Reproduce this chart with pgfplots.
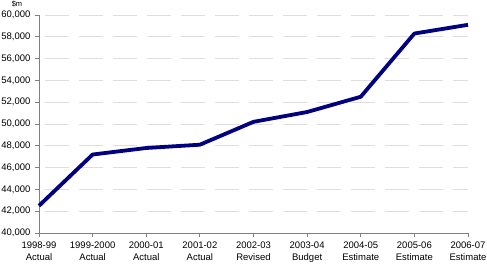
\documentclass[border=0pt]{standalone}
\usepackage{pgfplots}
\pgfplotsset{compat=1.18}
\usepackage{fontspec}
\setmainfont{Liberation Sans}
\definecolor{navyline}{RGB}{0,0,128}
\definecolor{axisgray}{RGB}{128,128,128}
\definecolor{gridgray}{RGB}{222,222,222}
\begin{document}
\begin{tikzpicture}
\useasboundingbox (-39pt,-36pt) rectangle (448pt,233pt);
\begin{axis}[
  scale only axis,
  width=429pt, height=218pt,
  xmin=0, xmax=8,
  ymin=40000, ymax=60000,
  ytick={40000,42000,...,60000},
  xtick={0,...,8},
  xticklabels={{1998-99\\Actual},{1999-2000\\Actual},{2000-01\\Actual},{2001-02\\Actual},{2002-03\\Revised},{2003-04\\Budget},{2004-05\\Estimate},{2005-06\\Estimate},{2006-07\\Estimate}},
  x tick label style={align=center, font=\fontsize{9.5}{12}\selectfont, yshift=-1pt},
  y tick label style={font=\fontsize{9.5}{11}\selectfont, xshift=-1pt},
  /pgf/number format/.cd, 1000 sep={,}, assume math mode=true,
  /pgfplots/.cd,
  scaled y ticks=false,
  axis lines=left,
  axis line style={axisgray, line width=0.8pt, -},
  tick style={axisgray, line width=0.8pt},
  tick align=outside,
  major tick length=4pt,
  ymajorgrids,
  major grid style={gridgray, line width=0.8pt, dash pattern=on 24pt off 10pt, dash phase=-6pt},
  clip=false,
]
\addplot[navyline, line width=3.8pt, line join=round] coordinates {
  (0,42500) (1,47200) (2,47800) (3,48100) (4,50200)
  (5,51100) (6,52500) (7,58300) (8,59100)
};
\end{axis}
% unit label above the value axis
\node[anchor=base, font=\fontsize{7.5}{9}\selectfont, inner sep=0pt] at (-22pt,227pt) {\$m};
\end{tikzpicture}
\end{document}
